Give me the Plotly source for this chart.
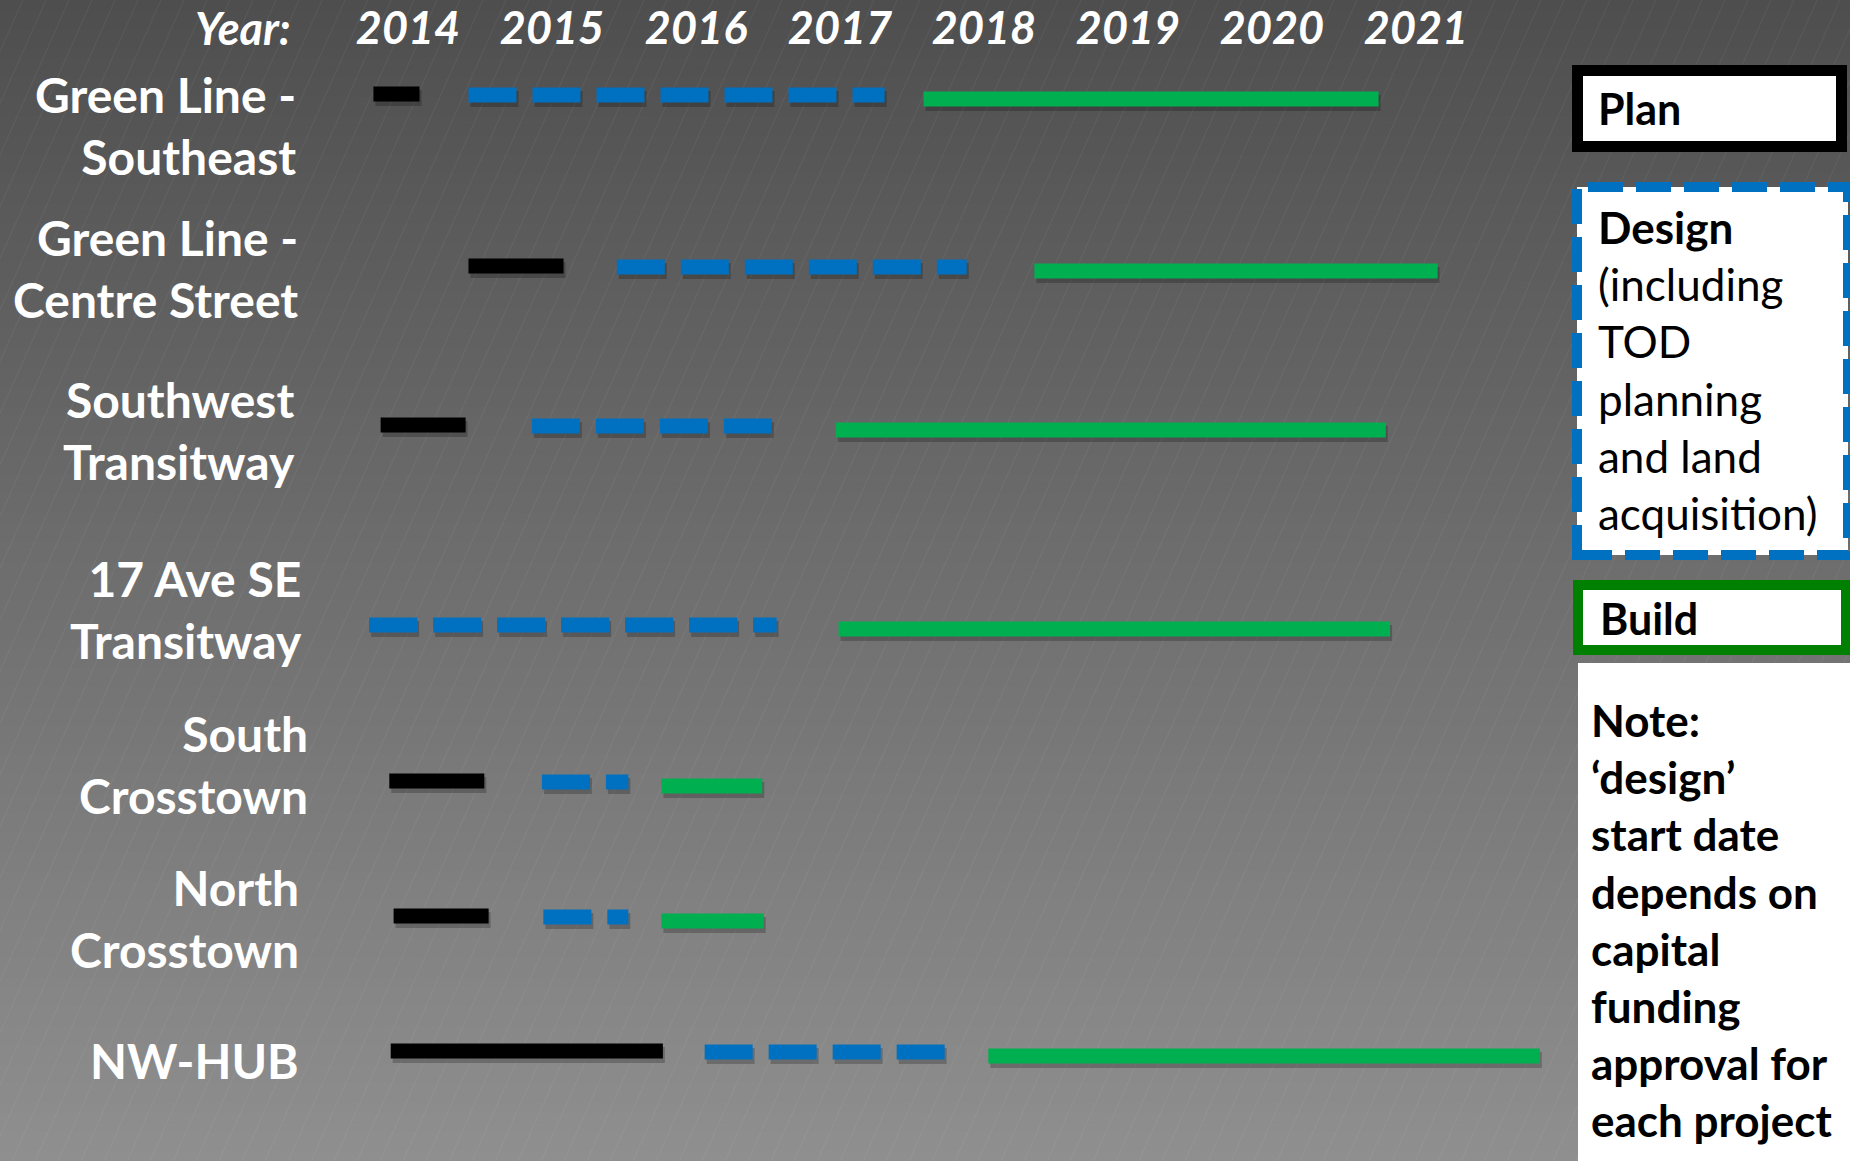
import math
import plotly.graph_objects as go

W, H = 1850, 1161

# ---------------- data ----------------
PROJECTS = ["Green Line -<br>Southeast", "Green Line -<br>Centre Street", "Southwest<br>Transitway",
            "17 Ave SE<br>Transitway", "South<br>Crosstown", "North<br>Crosstown", "NW-HUB"]
YEARS = [2014, 2015, 2016, 2017, 2018, 2019, 2020, 2021]

PLAN_START = [2014.26, 2014.92, 2014.31, None, 2014.37, 2014.40, 2014.38]
PLAN_END = [2014.58, 2015.58, 2014.90, None, 2015.03, 2015.06, 2016.27]
DESIGN_START = [2014.92, 2015.95, 2015.36, 2014.23, 2015.43, 2015.44, 2016.56]
DESIGN_END = [2017.81, 2018.38, 2017.03, 2017.06, 2016.03, 2016.03, 2018.23]
BUILD_START = [2018.08, 2018.85, 2017.47, 2017.49, 2016.26, 2016.26, 2018.53]
BUILD_END = [2021.24, 2021.65, 2021.29, 2021.32, 2016.96, 2016.97, 2022.36]

LEGEND_PLAN = "Plan"
LEGEND_DESIGN = "<b>Design</b><br>(including<br>TOD<br>planning<br>and land<br>acquisition)"
LEGEND_BUILD = "Build"
NOTE_TEXT = "Note:<br>‘design’<br>start date<br>depends on<br>capital<br>funding<br>approval for<br>each project"

# ---------------- layout / style ----------------
PX_PER_YEAR = 144.0
X0_PX = 336.0  # pixel of year 2014.0
ROW_Y = [95, 267, 426, 625, 782, 917, 1052]
PHASE_DY = {"plan": -1, "design": 0, "build": 4}
LABEL_Y = [125, 268, 430, 609, 764, 918, 1060]
LABEL_RIGHT = [298, 300, 297, 304, 310, 301, 301]
BAR_W = 15
COL_PLAN, COL_DESIGN, COL_BUILD = "#000000", "#0070C0", "#00B050"
FONT = "Lato"

def px(x):
    return x / W

def py(y):
    return 1 - y / H

fig = go.Figure()

def add_bar(x0, x1, y, color, dash="solid"):
    sx = 2 / PX_PER_YEAR
    fig.add_trace(go.Scatter(x=[x0 + sx, x1 + sx], y=[y + 4, y + 4], mode="lines",
                             line=dict(color="rgba(0,0,0,0.22)", width=BAR_W + 1, dash=dash),
                             hoverinfo="skip", showlegend=False))
    fig.add_trace(go.Scatter(x=[x0, x1], y=[y, y], mode="lines",
                             line=dict(color=color, width=BAR_W, dash=dash),
                             hoverinfo="skip", showlegend=False))

for i in range(len(PROJECTS)):
    if PLAN_START[i] is not None:
        add_bar(PLAN_START[i], PLAN_END[i], ROW_Y[i] + PHASE_DY["plan"], COL_PLAN)
    add_bar(DESIGN_START[i], DESIGN_END[i], ROW_Y[i] + PHASE_DY["design"], COL_DESIGN, "48px,16px")
    add_bar(BUILD_START[i], BUILD_END[i], ROW_Y[i] + PHASE_DY["build"], COL_BUILD)

shapes = []
# background gradient
N = 120
c_top, c_bot = (78, 78, 78), (143, 143, 143)
for k in range(N):
    t = (k + 0.5) / N
    c = [round(c_top[j] + (c_bot[j] - c_top[j]) * t) for j in range(3)]
    shapes.append(dict(type="rect", xref="paper", yref="paper", x0=0, x1=1,
                       y0=1 - (k + 1) / N - 0.001, y1=1 - k / N,
                       fillcolor=f"rgb({c[0]},{c[1]},{c[2]})", line=dict(width=0), layer="below"))
# faint diagonal stripes
dx = H / math.tan(math.radians(66))
path = ""
x = -dx
while x < W + 10:
    path += f"M {px(x):.4f} 0 L {px(x + dx):.4f} 1 "
    x += 23
shapes.append(dict(type="path", xref="paper", yref="paper", path=path,
                   line=dict(color="rgba(255,255,255,0.05)", width=1.2), layer="below"))

# legend boxes
shapes.append(dict(type="rect", xref="paper", yref="paper", x0=px(1577.5), x1=px(1841.5),
                   y0=py(146.5), y1=py(70.5), fillcolor="white",
                   line=dict(color="black", width=11)))
shapes.append(dict(type="rect", xref="paper", yref="paper", x0=px(1577), x1=px(1848),
                   y0=py(555), y1=py(187), fillcolor="white",
                   line=dict(color=COL_DESIGN, width=10, dash="35px,13px")))
shapes.append(dict(type="rect", xref="paper", yref="paper", x0=px(1578), x1=px(1846),
                   y0=py(650), y1=py(585), fillcolor="white",
                   line=dict(color="#008000", width=10)))
shapes.append(dict(type="rect", xref="paper", yref="paper", x0=px(1578), x1=1.01,
                   y0=-0.01, y1=py(663), fillcolor="white", line=dict(width=0)))

annotations = []
for i, lab in enumerate(PROJECTS):
    annotations.append(dict(text=lab, xref="paper", yref="y", x=px(LABEL_RIGHT[i]), y=LABEL_Y[i],
                            xanchor="right", yanchor="middle", align="right", showarrow=False,
                            font=dict(family=FONT, size=48, color="white", weight="bold")))
annotations.append(dict(text="Year:", xref="paper", yref="y", x=px(293), y=28,
                        xanchor="right", yanchor="middle", showarrow=False,
                        font=dict(family=FONT, size=45, color="white", weight="bold", style="italic")))
annotations.append(dict(text=LEGEND_PLAN, xref="paper", yref="y", x=px(1596), y=108,
                        xanchor="left", yanchor="middle", showarrow=False,
                        font=dict(family=FONT, size=43, color="black", weight="bold")))
annotations.append(dict(text=LEGEND_DESIGN, xref="paper", yref="y", x=px(1596), y=370,
                        xanchor="left", yanchor="middle", align="left", showarrow=False,
                        font=dict(family=FONT, size=44, color="black")))
annotations.append(dict(text=LEGEND_BUILD, xref="paper", yref="y", x=px(1598), y=618,
                        xanchor="left", yanchor="middle", showarrow=False,
                        font=dict(family=FONT, size=43, color="black", weight="bold")))
annotations.append(dict(text=NOTE_TEXT, xref="paper", yref="y", x=px(1589), y=920,
                        xanchor="left", yanchor="middle", align="left", showarrow=False,
                        font=dict(family=FONT, size=44, color="black", weight="bold")))

fig.update_layout(
    width=W, height=H, margin=dict(l=0, r=0, t=0, b=0, pad=0, autoexpand=False),
    paper_bgcolor="rgb(78,78,78)", plot_bgcolor="rgba(0,0,0,0)",
    showlegend=False, shapes=shapes, annotations=annotations,
    xaxis=dict(range=[2014 - X0_PX / PX_PER_YEAR, 2014 + (W - X0_PX) / PX_PER_YEAR],
               side="top", tickvals=[y + 0.5 for y in YEARS], ticktext=[str(y) for y in YEARS],
               ticklabelposition="inside", ticklabelstandoff=9, ticks="", showgrid=False,
               zeroline=False, showline=False, automargin=False,
               tickfont=dict(family=FONT, size=45, color="white", weight="bold", style="italic")),
    yaxis=dict(range=[H, 0], visible=False, showgrid=False, zeroline=False, automargin=False),
)

fig.write_html("out.html", config={"displayModeBar": False},
               post_script="document.body.style.margin='0';document.body.style.overflow='hidden';")
